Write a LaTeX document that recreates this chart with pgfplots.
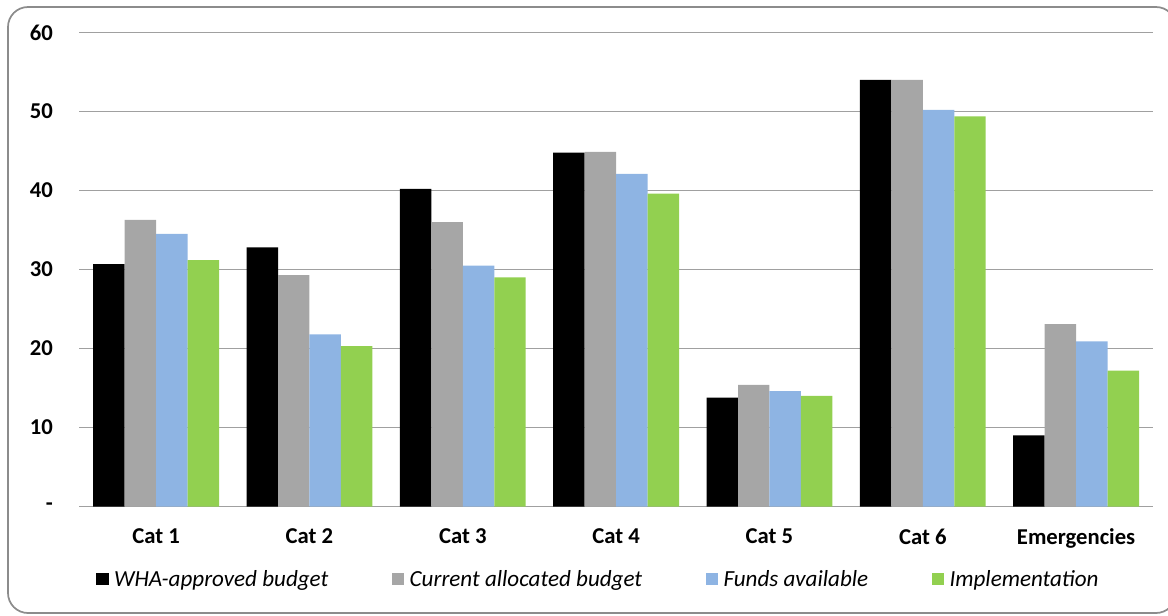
\documentclass[border=0pt]{standalone}
\usepackage{fontspec}
\setmainfont{Carlito}
\usepackage{pgfplots}
\pgfplotsset{compat=1.18}

\definecolor{cwha}{HTML}{000000}
\definecolor{ccur}{HTML}{A6A6A6}
\definecolor{cfund}{HTML}{8EB4E3}
\definecolor{cimpl}{HTML}{92D050}
\definecolor{cgrid}{HTML}{A0A0A0}
\definecolor{cframe}{HTML}{8C8C8C}

\begin{document}
\begin{tikzpicture}
% page area and rounded chart frame
\path[use as bounding box] (0pt,0pt) rectangle (876pt,-461.25pt);
\draw[cframe, line width=1.3pt, rounded corners=15pt] (6pt,-5.25pt) rectangle (882pt,-459.75pt);

\begin{axis}[
  at={(59.6pt,-379.9pt)}, anchor=south west,
  scale only axis, width=805pt, height=355.5pt,
  ybar=0pt, bar width=23.6pt,
  xmin=-0.5, xmax=6.5, ymin=0, ymax=60,
  enlargelimits=false,
  xtick={0,1,2,3,4,5,6},
  xticklabels={Cat 1,Cat 2,Cat 3,Cat 4,Cat 5,Cat 6,Emergencies},
  ytick={0,10,20,30,40,50,60},
  yticklabels={-,10,20,30,40,50,60},
  major tick length=0pt,
  axis line style={draw=none},
  ymajorgrids,
  grid style={cgrid, line width=1pt},
  /pgf/number format/assume math mode=true,
  ticklabel style={font=\fontsize{17}{20}\selectfont\bfseries},
  yticklabel style={xshift=-16.5pt},
  xticklabel style={yshift=-13pt},
  legend columns=4,
  legend style={draw=none, fill=none, at={(0.484,-0.153)}, anchor=center,
    font=\fontsize{17.3}{20}\selectfont\itshape,
    /tikz/every odd column/.append style={column sep=1.5pt},
    /tikz/every even column/.append style={column sep=45pt},
    nodes={inner sep=2.5pt}},
  legend image code/.code={\fill[#1] (0pt,-4.7pt) rectangle (9.5pt,4.7pt);},
]
\addplot[draw=none, fill=cwha] coordinates {(0,30.7) (1,32.8) (2,40.2) (3,44.8) (4,13.8) (5,54.0) (6,9.0)};
\addplot[draw=none, fill=ccur] coordinates {(0,36.3) (1,29.3) (2,36.0) (3,44.9) (4,15.4) (5,54.0) (6,23.1)};
\addplot[draw=none, fill=cfund] coordinates {(0,34.5) (1,21.8) (2,30.5) (3,42.1) (4,14.6) (5,50.2) (6,20.9)};
\addplot[draw=none, fill=cimpl] coordinates {(0,31.2) (1,20.3) (2,29.0) (3,39.6) (4,14.0) (5,49.4) (6,17.2)};
\legend{WHA-approved budget, Current allocated budget, Funds available, Implementation}
\end{axis}
\end{tikzpicture}
\end{document}
